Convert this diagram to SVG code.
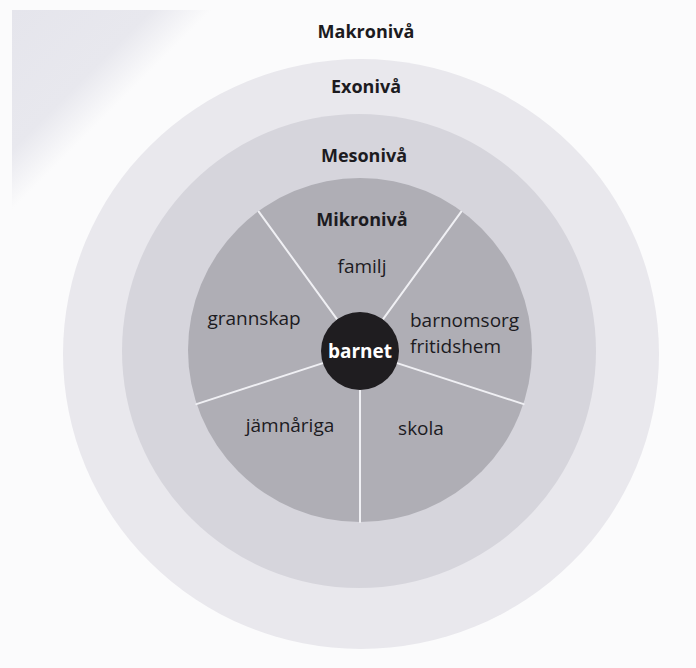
<svg xmlns="http://www.w3.org/2000/svg" width="696" height="668" viewBox="0 0 696 668">
  <defs>
    <linearGradient id="shadow" gradientUnits="userSpaceOnUse" x1="12" y1="10" x2="112" y2="110">
      <stop offset="0" stop-color="#e5e5ec"/>
      <stop offset="0.7" stop-color="#e8e8ee"/>
      <stop offset="1" stop-color="#fbfbfc"/>
    </linearGradient>
  </defs>
  <style>
    .lvl { font-family: "Open Sans", "Noto Sans", "Liberation Sans", sans-serif; font-weight: 700; font-size: 18px; fill: #1c1b1f; text-anchor: middle; }
    .lbl { font-family: "Open Sans", "Noto Sans", "Liberation Sans", sans-serif; font-weight: 400; font-size: 19px; fill: #1c1b1f; }
    .ctr { font-family: "Open Sans", "Noto Sans", "Liberation Sans", sans-serif; font-weight: 700; font-size: 19px; fill: #ffffff; text-anchor: middle; }
    .div { stroke: #f0f0f4; stroke-width: 2; stroke-linecap: round; }
  </style>

  <!-- background / scan paper -->
  <rect x="0" y="0" width="696" height="668" fill="#fbfbfc"/>
  <rect x="12" y="10" width="200" height="200" fill="url(#shadow)"/>

  <g id="makro">
    <text class="lvl" x="366" y="38">Makronivå</text>
  </g>

  <g id="exo">
    <ellipse cx="361" cy="354" rx="298" ry="295" fill="#e9e8ed"/>
    <text class="lvl" x="366" y="93">Exonivå</text>
  </g>

  <g id="meso">
    <circle cx="359" cy="351" r="237" fill="#d6d5dc"/>
    <text class="lvl" x="364" y="162">Mesonivå</text>
  </g>

  <g id="mikro">
    <circle cx="360" cy="350" r="172" fill="#afaeb5"/>
    <text class="lvl" x="362" y="226">Mikronivå</text>
  </g>

  <g id="connectors">
    <line class="div" x1="382.9" y1="319.4" x2="461.1" y2="211.9"/>
    <line class="div" x1="397.1" y1="363.1" x2="523.6" y2="404.1"/>
    <line class="div" x1="360" y1="390" x2="360" y2="522"/>
    <line class="div" x1="322.9" y1="363.1" x2="196.4" y2="404.1"/>
    <line class="div" x1="337.1" y1="319.4" x2="258.9" y2="211.9"/>
  </g>

  <g id="familj">
    <text class="lbl" x="362" y="273" text-anchor="middle">familj</text>
  </g>
  <g id="grannskap">
    <text class="lbl" x="254" y="325" text-anchor="middle">grannskap</text>
  </g>
  <g id="barnomsorg">
    <text class="lbl" x="410" y="327">barnomsorg</text>
    <text class="lbl" x="410" y="353">fritidshem</text>
  </g>
  <g id="jamnariga">
    <text class="lbl" x="290" y="432" text-anchor="middle">jämnåriga</text>
  </g>
  <g id="skola">
    <text class="lbl" x="421" y="435" text-anchor="middle">skola</text>
  </g>

  <g id="barnet">
    <circle cx="360" cy="351" r="39" fill="#1f1d20"/>
    <text class="ctr" x="360" y="358">barnet</text>
  </g>
</svg>
